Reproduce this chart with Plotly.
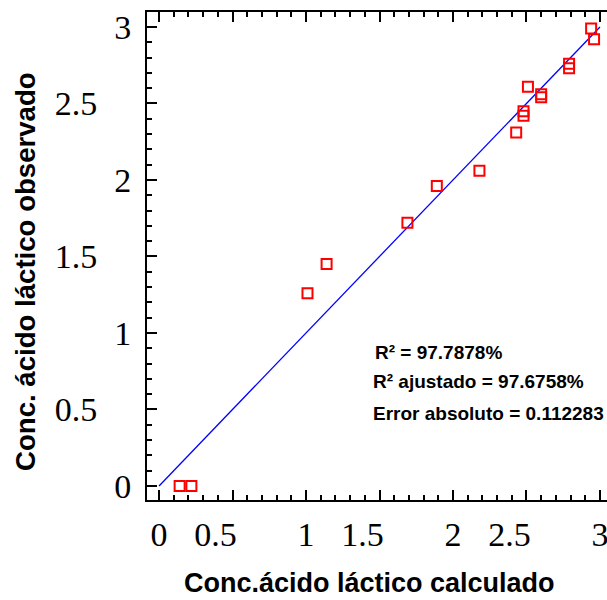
import plotly.graph_objects as go

# Data
x_calc = [0.14, 0.22, 1.01, 1.14, 1.69, 1.89, 2.18, 2.43, 2.48, 2.48, 2.51, 2.60, 2.60, 2.79, 2.79, 2.94, 2.96]
y_obs = [0.0, 0.0, 1.26, 1.45, 1.72, 1.96, 2.06, 2.31, 2.45, 2.42, 2.61, 2.56, 2.54, 2.76, 2.73, 2.99, 2.92]
fit_x = [0.0, 3.0]
fit_y = [0.0, 3.0]
tick_vals = [0, 0.5, 1, 1.5, 2, 2.5, 3]
pad = "\u00a0" * 4
tick_text = ["0", "0.5" + pad, "1", "1.5" + pad, "2", "2.5" + pad, "3"]
stats_text = ["R² = 97.7878%", "R² ajustado = 97.6758%", "Error absoluto = 0.112283"]
x_title = "Conc.ácido láctico calculado"
y_title = "Conc. ácido láctico observado"

fig = go.Figure()
fig.add_trace(go.Scatter(x=fit_x, y=fit_y, mode="lines",
                         line=dict(color="#0000ff", width=1.3), showlegend=False))
fig.add_trace(go.Scatter(x=x_calc, y=y_obs, mode="markers",
                         marker=dict(symbol="square-open", size=10, color="#ff0000",
                                     line=dict(width=2, color="#ff0000")),
                         showlegend=False))

tickfont = dict(family="Liberation Serif", size=34, color="black")

fig.update_layout(
    width=607, height=600,
    margin=dict(l=147, r=0, t=12, b=100),
    plot_bgcolor="white", paper_bgcolor="white",
    xaxis=dict(range=[-0.082, 3.048], tickvals=tick_vals, ticktext=tick_text,
               ticks="inside", ticklen=10, tickwidth=2, tickcolor="black",
               minor=dict(dtick=0.1, ticks="inside", ticklen=5, tickwidth=2, tickcolor="black"),
               showline=True, linewidth=2, linecolor="black", mirror="allticks",
               showgrid=False, zeroline=False, tickfont=tickfont,
               ticklabeloverflow="allow", ticklabelstandoff=3),
    yaxis=dict(range=[-0.092, 3.098], tickvals=tick_vals, ticktext=tick_text,
               ticks="inside", ticklen=10, tickwidth=2, tickcolor="black",
               minor=dict(dtick=0.1, ticks="inside", ticklen=5, tickwidth=2, tickcolor="black"),
               showline=True, linewidth=2, linecolor="black",
               showgrid=False, zeroline=False, tickfont=tickfont,
               ticklabeloverflow="allow", ticklabelstandoff=7),
    yaxis2=dict(range=[-0.092, 3.098], overlaying="y", side="right", tickvals=tick_vals,
                ticks="inside", ticklen=6, tickwidth=2, tickcolor="black",
                showticklabels=False, showline=False, showgrid=False, zeroline=False),
)

# axis titles
fig.add_annotation(text="<b>" + x_title + "</b>", xref="paper", yref="paper",
                   x=(369 - 147) / 460, y=(500 - 583) / 488, xanchor="center", yanchor="middle",
                   showarrow=False, font=dict(family="Liberation Sans", size=27, color="black"))
fig.add_annotation(text="<b>" + y_title + "</b>", xref="paper", yref="paper", textangle=-90,
                   x=(25 - 147) / 460, y=(500 - 272) / 488, xanchor="center", yanchor="middle",
                   showarrow=False, font=dict(family="Liberation Sans", size=27.6, color="black"))

ys = [352, 381, 413]
xs = [373, 371, 371]
for t, yy, xx in zip(stats_text, ys, xs):
    fig.add_annotation(text="<b>" + t + "</b>", xref="paper", yref="paper",
                       x=(xx - 147) / 460, y=(500 - yy) / 488, xanchor="left", yanchor="middle",
                       showarrow=False, font=dict(family="Liberation Sans", size=19, color="black"))

fig.write_html("out.html")
